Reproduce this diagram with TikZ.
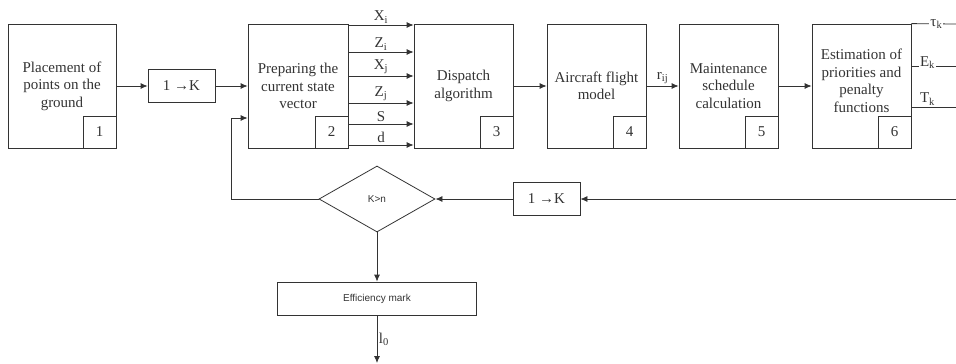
\documentclass[tikz,border=0pt]{standalone}
\usepackage{fontspec}
\setmainfont{Liberation Serif}
\newfontfamily\labelsans{Liberation Sans}
\usepackage{xcolor}
\usetikzlibrary{positioning, shapes.geometric, arrows.meta}

\definecolor{linegray}{HTML}{333333}

\tikzset{
  blockbox/.style={draw=linegray, minimum width=99pt, minimum height=124pt, align=center, inner sep=0pt},
  numbox/.style={draw=linegray, minimum width=33pt, minimum height=32pt, anchor=south east, inner sep=0pt},
  countbox/.style={draw=linegray, minimum width=67pt, minimum height=33pt, inner sep=0pt},
  decision/.style={draw=linegray, shape=diamond, minimum width=116pt, minimum height=66pt, inner sep=0pt, font=\labelsans\fontsize{10}{12}\selectfont},
  markbox/.style={draw=linegray, minimum width=199pt, minimum height=33pt, font=\labelsans\fontsize{10}{12}\selectfont},
  link/.style={draw=linegray, -{Latex[length=7pt,width=6pt]}},
  wire/.style={draw=linegray},
  sig/.style={inner sep=1.5pt}
}

\begin{document}
\begin{tikzpicture}[x=1pt, y=1pt, on grid, text=linegray, line width=0.8pt,
    font=\fontsize{15}{17.5}\selectfont]
    \useasboundingbox (0,0) rectangle (956,-364);

    % upper row
    \node[blockbox, minimum width=108pt] (b1) at (62,-86) {Placement of\\points on the\\ground};
    \node[countbox] (k1) [right=119.5pt of b1] {1 →K};
    \node[blockbox, minimum width=100pt] (b2) [right=236pt of b1] {Preparing the\\current state\\vector};
    \node[blockbox] (b3) [right=165.5pt of b2] {Dispatch\\algorithm};
    \node[blockbox] (b4) [right=133pt of b3] {Aircraft flight\\model};
    \node[blockbox] (b5) [right=132pt of b4] {Maintenance\\schedule\\calculation};
    \node[blockbox] (b6) [right=133pt of b5] {};
    \node[align=center, inner sep=0pt] (b6text) at ([yshift=5pt]b6.center) {Estimation of\\priorities and\\penalty\\functions};

    \node[numbox] (n1) at (b1.south east) {1};
    \node[numbox] (n2) at (b2.south east) {2};
    \node[numbox] (n3) at (b3.south east) {3};
    \node[numbox] (n4) at (b4.south east) {4};
    \node[numbox] (n5) at (b5.south east) {5};
    \node[numbox] (n6) at (b6.south east) {6};

    % lower row
    \node[decision] (dec) at (377,-199) {K>n};
    \node[countbox] (k2) [right=169.5pt of dec] {1 →K};
    \node[markbox] (eff) [below=99.5pt of dec] {Efficiency mark};

    % outer ends
    \coordinate (tauout) at (956,-24);
    \coordinate (eout) at (956,-66);
    \coordinate (tout) at (956,-107);
    \coordinate (fbin) at (956,-199);
    \coordinate (lout) at (377,-363);

    \draw[link] (b1) -- (k1);
    \draw[link] (k1) -- (b2);
    \foreach \lab/\dy in {X\textsubscript{i}/61, Z\textsubscript{i}/34, X\textsubscript{j}/10,
        Z\textsubscript{j}/-17, S/-38, d/-59}
      \draw[link] ([yshift=\dy pt]b2.east) -- ([yshift=\dy pt]b3.west) node[midway, above, sig] {\lab};
    \draw[link] (b3) -- (b4);
    \draw[link] (b4) -- (b5) node[pos=0.5, above, sig] {r\textsubscript{ij}};
    \draw[link] (b5) -- (b6);

    \draw[wire] (b6.north east) -- (tauout) node[pos=0.56, fill=white, inner sep=1pt] {τ\textsubscript{k}};
    \draw[wire] ([yshift=20pt]b6.east) -- (eout) node[pos=0.36, above, fill=white, inner sep=1pt, yshift=-4pt] {E\textsubscript{k}};
    \draw[wire] ([yshift=-21pt]b6.east) -- (tout) node[pos=0.36, above, sig] {T\textsubscript{k}};

    \draw[link] (fbin) -- (k2);
    \draw[link] (k2) -- (dec.east);
    \draw[link] (dec.west) -| ([xshift=-16pt, yshift=-32pt]b2.west) -- ([yshift=-32pt]b2.west);
    \draw[link] (dec.south) -- (eff.north);
    \draw[link] (eff.south) -- (lout) node[midway, right, sig] {l\textsubscript{0}};
\end{tikzpicture}
\end{document}
